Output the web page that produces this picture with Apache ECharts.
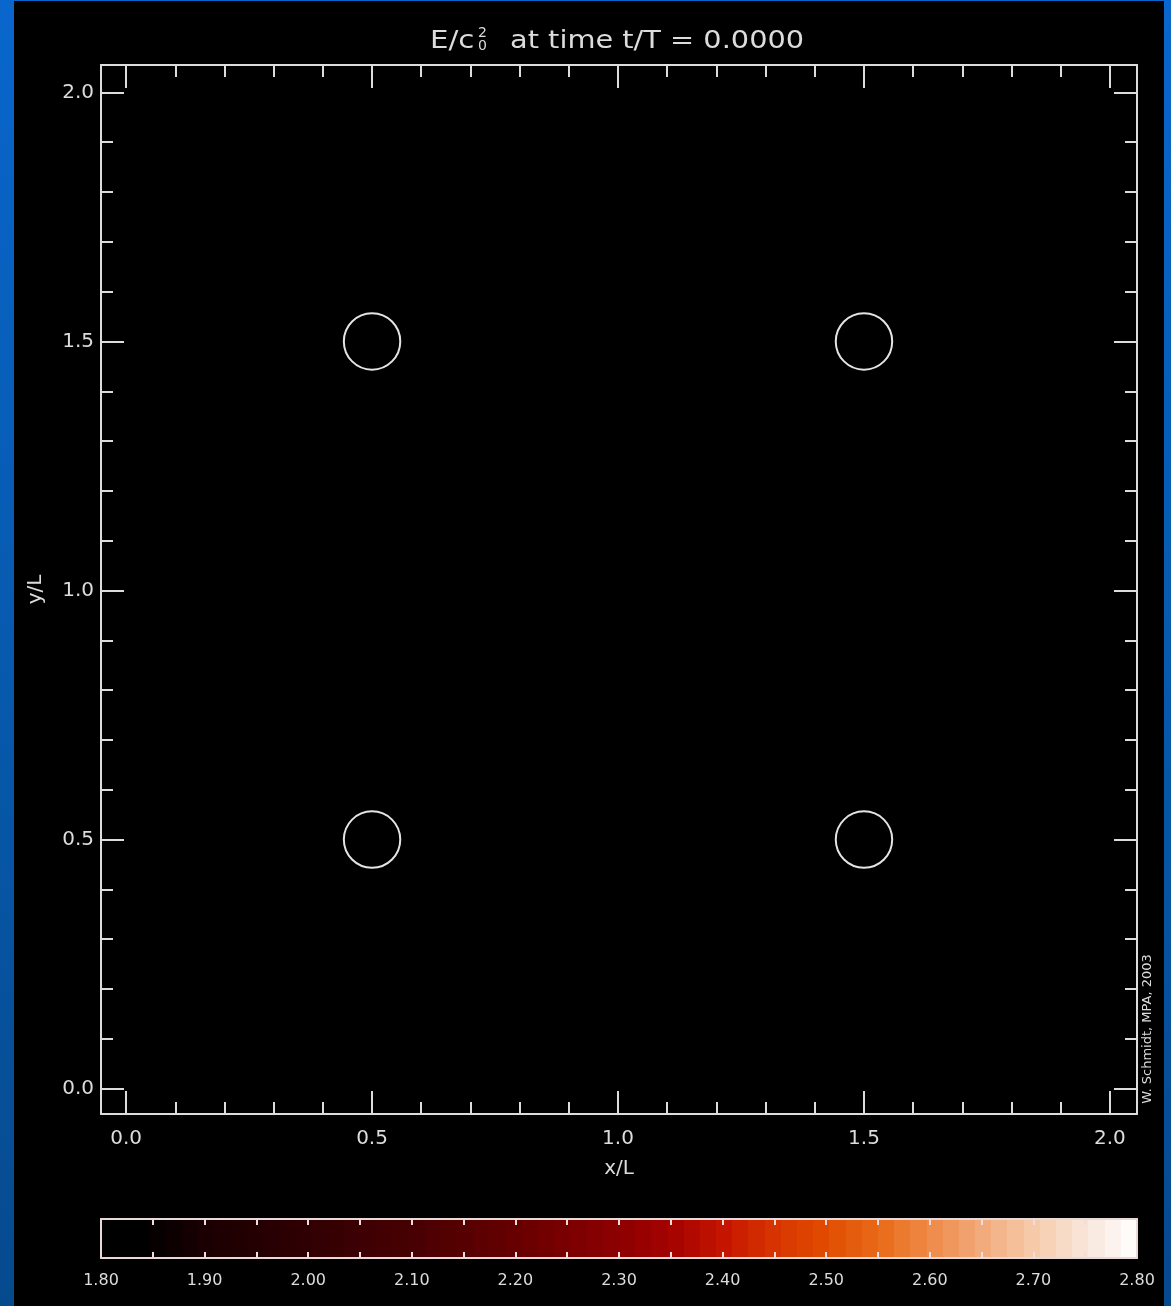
<!DOCTYPE html>
<html>
<head>
<meta charset="utf-8">
<title>E/c0^2 at time t/T = 0.0000</title>
<style>
  html, body { margin: 0; padding: 0; }
  body { background: linear-gradient(180deg, #0966cc 0%, #075aae 50%, #064a8e 100%); }
  #chart { width: 1171px; height: 1306px; }
</style>
<script src="https://cdn.jsdelivr.net/npm/echarts@6/dist/echarts.min.js"></script>
</head>
<body>
<div id="chart"></div>
<script>
// Contour rings of E/c0^2: centres in x/L, y/L and ring radius (in L)
const ringCentersX = [0.5, 1.5, 0.5, 1.5];
const ringCentersY = [1.5, 1.5, 0.5, 0.5];
const ringRadius   = [0.057, 0.057, 0.057, 0.057];

// Domain of the simulation box plot
const axisMin = -0.051;
const axisMax = 2.055;
const axisMajorTicks = [0.0, 0.5, 1.0, 1.5, 2.0];
const axisMinorTicks = [0.1, 0.2, 0.3, 0.4, 0.6, 0.7, 0.8, 0.9, 1.1, 1.2, 1.3, 1.4, 1.6, 1.7, 1.8, 1.9];

// Colour bar: value range, labelled values and tick marks
const colorbarRange  = [1.80, 2.80];
const colorbarLabels = [1.80, 1.90, 2.00, 2.10, 2.20, 2.30, 2.40, 2.50, 2.60, 2.70, 2.80];
const colorbarTicks  = [1.85, 1.90, 1.95, 2.00, 2.05, 2.10, 2.15, 2.20, 2.25, 2.30, 2.35,
                        2.40, 2.45, 2.50, 2.55, 2.60, 2.65, 2.70, 2.75];

// Red-temperature colour table anchors
const colorStopValues = [1.80, 1.84, 1.90, 2.00, 2.10, 2.20, 2.30, 2.35, 2.40, 2.45, 2.50, 2.55, 2.60, 2.65, 2.70, 2.75, 2.80];
const colorStopColors = ['#000000', '#000000', '#1a0002', '#300003', '#480002', '#660000', '#8e0000', '#a40200',
                         '#c41400', '#d83400', '#e04c00', '#e86a18', '#ee8a48', '#f2aa7c', '#f6caaa', '#f9e6da', '#ffffff'];

const BAND_COUNT = 64;
const FG = '#dcdcdc';
const CB_LINE = '#e8d8d8';
const FONT = 'DejaVu Sans';

function hexToRgb(h) {
  return [parseInt(h.slice(1, 3), 16), parseInt(h.slice(3, 5), 16), parseInt(h.slice(5, 7), 16)];
}
function colorAt(v) {
  if (v <= colorStopValues[0]) return colorStopColors[0];
  for (let i = 1; i < colorStopValues.length; i++) {
    if (v <= colorStopValues[i]) {
      const t = (v - colorStopValues[i - 1]) / (colorStopValues[i] - colorStopValues[i - 1]);
      const a = hexToRgb(colorStopColors[i - 1]), b = hexToRgb(colorStopColors[i]);
      const c = a.map((x, k) => Math.round(x + (b[k] - x) * t));
      return 'rgb(' + c.join(',') + ')';
    }
  }
  return colorStopColors[colorStopColors.length - 1];
}

const ringData = ringCentersX.map((x, i) => [x, ringCentersY[i], ringRadius[i]]);

// One axis of the box frame; lineMode: true = line + labels, false = line only, null = ticks only
function boxAxis(kind, position, ticks, len, lineMode, extra) {
  const ax = {
    type: 'value',
    gridIndex: 0,
    position: position,
    min: axisMin,
    max: axisMax,
    splitLine: { show: false },
    axisLine: { show: lineMode !== null, onZero: false, lineStyle: { color: FG, width: 2 } },
    axisTick: { show: true, inside: true, length: len, customValues: ticks, lineStyle: { color: FG, width: 2 } },
    axisLabel: { show: false }
  };
  if (lineMode) {
    ax.axisLabel = {
      show: true,
      customValues: axisMajorTicks,
      formatter: v => v.toFixed(1),
      color: FG,
      fontFamily: FONT,
      fontSize: 20,
      margin: kind === 'x' ? 15 : 7
    };
  }
  return Object.assign(ax, extra || {});
}

function colorbarXAxis(position, withLabels) {
  return {
    type: 'value', gridIndex: 1, position: position, z: 10,
    min: colorbarRange[0], max: colorbarRange[1],
    splitLine: { show: false },
    axisLine: { show: true, onZero: false, lineStyle: { color: CB_LINE, width: 2 } },
    axisTick: { show: true, inside: true, length: 6, customValues: colorbarTicks, lineStyle: { color: '#f0dcdc', width: 2 } },
    axisLabel: withLabels ? {
      show: true, customValues: colorbarLabels, formatter: v => v.toFixed(2),
      color: FG, fontFamily: FONT, fontSize: 16, margin: 15
    } : { show: false }
  };
}
function colorbarYAxis(position) {
  return {
    type: 'value', gridIndex: 1, position: position, z: 10, min: 0, max: 1,
    splitLine: { show: false }, axisTick: { show: false }, axisLabel: { show: false },
    axisLine: { show: true, onZero: false, lineStyle: { color: CB_LINE, width: 2 } }
  };
}

const chart = echarts.init(document.getElementById('chart'), null, { renderer: 'canvas' });

const option = {
  backgroundColor: 'transparent',
  animation: false,
  grid: [
    { left: 101, top: 65, width: 1036, height: 1049 },
    { left: 101, top: 1219, width: 1036, height: 39 }
  ],
  xAxis: [
    boxAxis('x', 'bottom', axisMajorTicks, 23, true, {
      name: 'x/L', nameLocation: 'middle', nameGap: 45,
      nameTextStyle: { color: FG, fontFamily: FONT, fontSize: 20 }
    }),
    boxAxis('x', 'bottom', axisMinorTicks, 12, null),
    boxAxis('x', 'top', axisMajorTicks, 23, false),
    boxAxis('x', 'top', axisMinorTicks, 12, null),
    colorbarXAxis('bottom', true),
    colorbarXAxis('top', false)
  ],
  yAxis: [
    boxAxis('y', 'left', axisMajorTicks, 23, true, {
      name: 'y/L', nameLocation: 'middle', nameGap: 55, nameRotate: 90,
      nameTextStyle: { color: FG, fontFamily: FONT, fontSize: 20 }
    }),
    boxAxis('y', 'left', axisMinorTicks, 12, null),
    boxAxis('y', 'right', axisMajorTicks, 23, false),
    boxAxis('y', 'right', axisMinorTicks, 12, null),
    colorbarYAxis('left'),
    colorbarYAxis('right')
  ],
  series: [
    {
      type: 'custom',
      name: 'contours',
      coordinateSystem: 'cartesian2d',
      xAxisIndex: 0,
      yAxisIndex: 0,
      data: ringData,
      encode: { x: 0, y: 1 },
      renderItem: function (params, api) {
        const c = api.coord([api.value(0), api.value(1)]);
        const s = api.size([api.value(2), api.value(2)]);
        return {
          type: 'circle',
          shape: { cx: c[0], cy: c[1], r: (s[0] + s[1]) / 2 },
          style: { fill: 'none', stroke: '#e4e4e4', lineWidth: 2 }
        };
      }
    },
    {
      type: 'custom',
      name: 'colorbar',
      coordinateSystem: 'cartesian2d',
      xAxisIndex: 4,
      yAxisIndex: 4,
      data: [[colorbarRange[0], colorbarRange[1]]],
      encode: { x: [0, 1] },
      renderItem: function (params, api) {
        const v0 = api.value(0), v1 = api.value(1);
        const p0 = api.coord([v0, 0]);
        const p1 = api.coord([v1, 1]);
        const stops = [];
        for (let i = 0; i < BAND_COUNT; i++) {
          const col = colorAt(v0 + (v1 - v0) * (i + 0.5) / BAND_COUNT);
          stops.push({ offset: i / BAND_COUNT, color: col });
          stops.push({ offset: (i + 1) / BAND_COUNT, color: col });
        }
        return {
          type: 'rect',
          shape: { x: p0[0], y: p1[1], width: p1[0] - p0[0], height: p0[1] - p1[1] },
          style: { fill: new echarts.graphic.LinearGradient(0, 0, 1, 0, stops) }
        };
      }
    }
  ],
  graphic: [
    { type: 'rect', z: -10, shape: { x: 14, y: 1, width: 1150, height: 1305 }, style: { fill: '#000000' } },
    {
      type: 'text', x: 430, y: 42, scaleX: 1.22,
      style: { text: 'E/c', fill: FG, font: '24px "DejaVu Sans"', textAlign: 'left', textVerticalAlign: 'middle' }
    },
    {
      type: 'text', x: 478, y: 33,
      style: { text: '2', fill: FG, font: '14px "DejaVu Sans"', textAlign: 'left', textVerticalAlign: 'middle' }
    },
    {
      type: 'text', x: 478, y: 46,
      style: { text: '0', fill: FG, font: '14px "DejaVu Sans"', textAlign: 'left', textVerticalAlign: 'middle' }
    },
    {
      type: 'text', x: 510, y: 42, scaleX: 1.2,
      style: { text: 'at time t/T = 0.0000', fill: FG, font: '24px "DejaVu Sans"', textAlign: 'left', textVerticalAlign: 'middle' }
    },
    {
      type: 'text', x: 1148, y: 1029, rotation: Math.PI / 2,
      style: { text: 'W. Schmidt, MPA, 2003', fill: FG, font: '13px "DejaVu Sans"', textAlign: 'center', textVerticalAlign: 'middle' }
    }
  ]
};

chart.setOption(option);
</script>
</body>
</html>
